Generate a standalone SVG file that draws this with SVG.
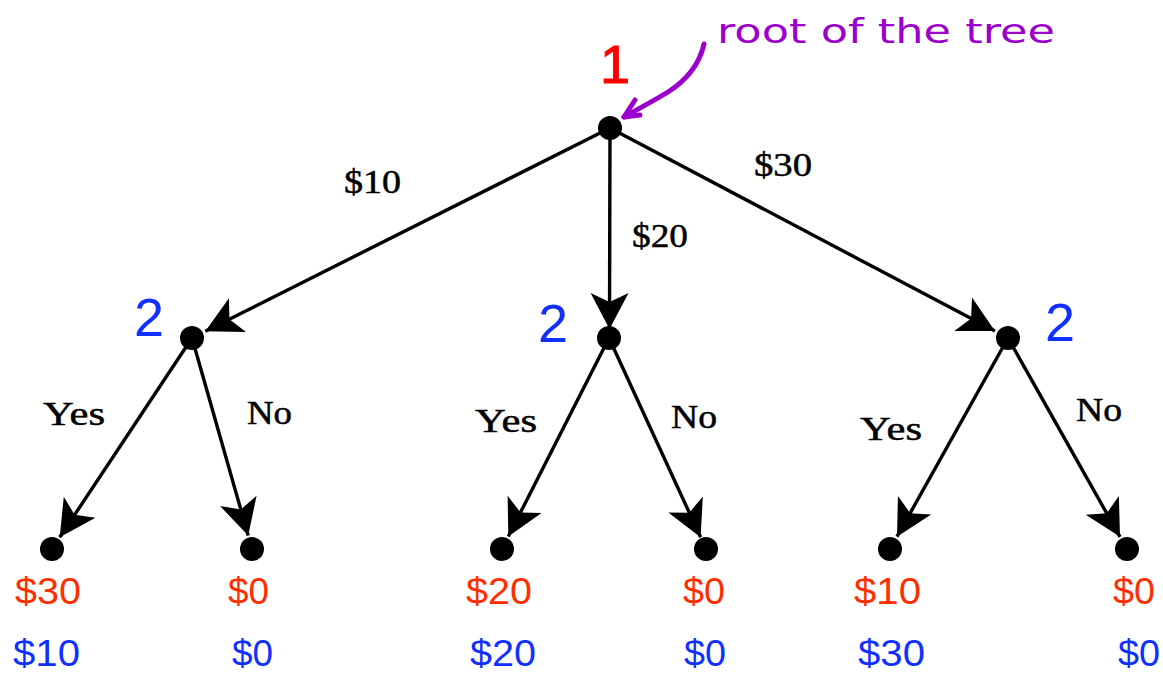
<svg xmlns="http://www.w3.org/2000/svg" width="1163" height="680" viewBox="0 0 1163 680">
  <style>
    .node { fill: #000; }
    .edge { stroke: #000; stroke-width: 3.4; fill: none; marker-end: url(#barb); }
    .move { font-family: "Liberation Serif", "Times New Roman", serif; font-size: 33px; fill: #000; stroke: #000; stroke-width: 0.5; }
    .player { font-family: "Liberation Sans", Arial, sans-serif; font-size: 54px; }
    .pay { font-family: "Liberation Sans", Arial, sans-serif; font-size: 37px; }
    .p1 { fill: #ff2e00; }
    .p2 { fill: #1030ff; }
    .note { font-family: "DejaVu Sans", "Liberation Sans", sans-serif; font-size: 34px; fill: #9b00cc; }
  </style>
  <defs>
    <marker id="barb" markerUnits="userSpaceOnUse" viewBox="-40 -22 42 44" refX="0" refY="0" markerWidth="42" markerHeight="44" orient="auto">
      <path d="M0,0 L-36,-19 L-27,0 L-36,19 Z" fill="#000"/>
    </marker>
  </defs>
  <rect width="1163" height="680" fill="#fff"/>

  <!-- connectors: each ends with its tip just inside the target node -->
  <g id="connectors">
    <line class="edge" x1="610" y1="128" x2="205.3" y2="331.3"/>
    <line class="edge" x1="610" y1="128" x2="609.5" y2="329"/>
    <line class="edge" x1="610" y1="128" x2="995" y2="331.1"/>
    <line class="edge" x1="192" y1="338" x2="59.7" y2="537.3"/>
    <line class="edge" x1="192" y1="338" x2="248.2" y2="535.5"/>
    <line class="edge" x1="609" y1="338" x2="508.3" y2="536.5"/>
    <line class="edge" x1="609" y1="338" x2="700.6" y2="537.2"/>
    <line class="edge" x1="1008" y1="338" x2="897" y2="536.7"/>
    <line class="edge" x1="1008" y1="338" x2="1120" y2="536.8"/>
  </g>

  <!-- move labels -->
  <g id="move-labels">
    <text class="move" x="344" y="193" textLength="57" lengthAdjust="spacingAndGlyphs">$10</text>
    <text class="move" x="632" y="247" textLength="56" lengthAdjust="spacingAndGlyphs">$20</text>
    <text class="move" x="754" y="176" textLength="58" lengthAdjust="spacingAndGlyphs">$30</text>
    <text class="move" x="43" y="425" textLength="62" lengthAdjust="spacingAndGlyphs">Yes</text>
    <text class="move" x="247" y="424" textLength="45" lengthAdjust="spacingAndGlyphs">No</text>
    <text class="move" x="475" y="432" textLength="62" lengthAdjust="spacingAndGlyphs">Yes</text>
    <text class="move" x="671" y="428" textLength="46" lengthAdjust="spacingAndGlyphs">No</text>
    <text class="move" x="860" y="440" textLength="62" lengthAdjust="spacingAndGlyphs">Yes</text>
    <text class="move" x="1076" y="421" textLength="46" lengthAdjust="spacingAndGlyphs">No</text>
  </g>

  <!-- root: player 1 -->
  <g id="root">
    <circle class="node" cx="610" cy="128" r="12"/>
    <text class="player" x="615" y="83" text-anchor="middle" fill="#ff0000" stroke="#ff0000" stroke-width="1">1</text>
  </g>

  <!-- player 2 decision nodes -->
  <g id="p2-left">
    <circle class="node" cx="192" cy="338" r="12"/>
    <text class="player p2" x="149" y="336" text-anchor="middle">2</text>
  </g>
  <g id="p2-mid">
    <circle class="node" cx="609" cy="338" r="12"/>
    <text class="player p2" x="553" y="342" text-anchor="middle">2</text>
  </g>
  <g id="p2-right">
    <circle class="node" cx="1008" cy="338" r="12"/>
    <text class="player p2" x="1060" y="341" text-anchor="middle">2</text>
  </g>

  <!-- outcomes: player 1 payoff (red), player 2 payoff (blue) -->
  <g id="leaf-1">
    <circle class="node" cx="52" cy="549" r="12"/>
    <text class="pay p1" x="15" y="604" textLength="66" lengthAdjust="spacingAndGlyphs">$30</text>
    <text class="pay p2" x="13" y="666" textLength="67" lengthAdjust="spacingAndGlyphs">$10</text>
  </g>
  <g id="leaf-2">
    <circle class="node" cx="252" cy="549" r="12"/>
    <text class="pay p1" x="228" y="604" textLength="41" lengthAdjust="spacingAndGlyphs">$0</text>
    <text class="pay p2" x="232" y="666" textLength="41" lengthAdjust="spacingAndGlyphs">$0</text>
  </g>
  <g id="leaf-3">
    <circle class="node" cx="502" cy="549" r="12"/>
    <text class="pay p1" x="466" y="604" textLength="66" lengthAdjust="spacingAndGlyphs">$20</text>
    <text class="pay p2" x="470" y="666" textLength="66" lengthAdjust="spacingAndGlyphs">$20</text>
  </g>
  <g id="leaf-4">
    <circle class="node" cx="706" cy="549" r="12"/>
    <text class="pay p1" x="683" y="604" textLength="42" lengthAdjust="spacingAndGlyphs">$0</text>
    <text class="pay p2" x="684" y="666" textLength="42" lengthAdjust="spacingAndGlyphs">$0</text>
  </g>
  <g id="leaf-5">
    <circle class="node" cx="890" cy="549" r="12"/>
    <text class="pay p1" x="854" y="604" textLength="67" lengthAdjust="spacingAndGlyphs">$10</text>
    <text class="pay p2" x="858" y="666" textLength="67" lengthAdjust="spacingAndGlyphs">$30</text>
  </g>
  <g id="leaf-6">
    <circle class="node" cx="1127" cy="549" r="12"/>
    <text class="pay p1" x="1113" y="604" textLength="42" lengthAdjust="spacingAndGlyphs">$0</text>
    <text class="pay p2" x="1118" y="666" textLength="42" lengthAdjust="spacingAndGlyphs">$0</text>
  </g>

  <!-- handwritten note pointing at the root -->
  <g id="note">
    <path d="M704,44 C700,62 690,78 668,92 C650,103 636,110 624,117" stroke="#9b00cc" stroke-width="5" fill="none" stroke-linecap="round"/>
    <path d="M635,100 L624,117 L640,115" stroke="#9b00cc" stroke-width="5" fill="none" stroke-linecap="round" stroke-linejoin="round"/>
    <text class="note" x="717" y="43" textLength="338" lengthAdjust="spacingAndGlyphs">root of the tree</text>
  </g>
</svg>
